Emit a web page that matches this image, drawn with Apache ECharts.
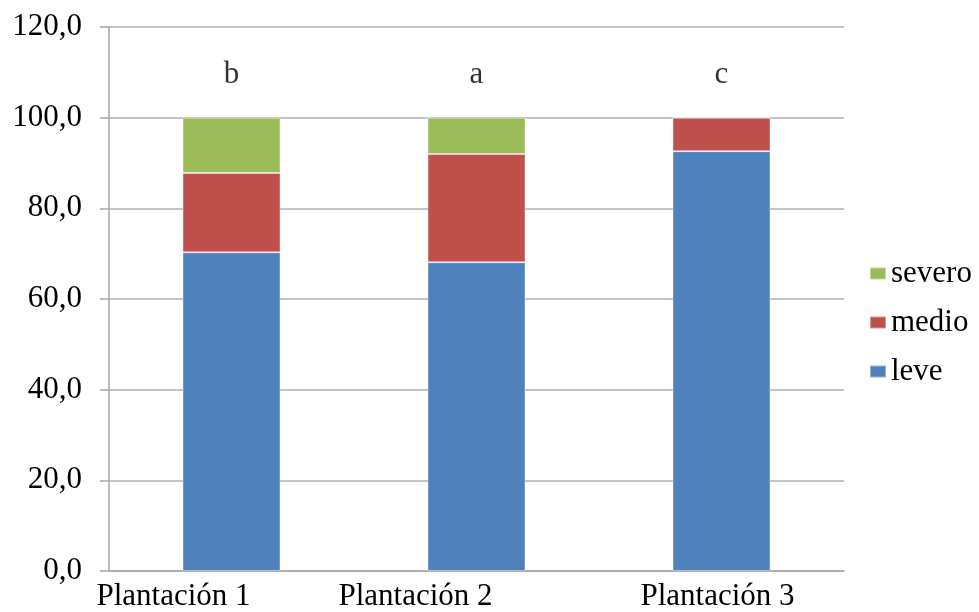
<!DOCTYPE html>
<html>
<head>
<meta charset="utf-8">
<script src="https://cdn.jsdelivr.net/npm/echarts@6/dist/echarts.min.js"></script>
<style>html,body{margin:0;padding:0;background:#fff;}#c{width:979px;height:612px;}</style>
</head>
<body>
<div id="c"></div>
<script>
const categories = ['Plantación 1', 'Plantación 2', 'Plantación 3'];
const leve = [70.3, 68.1, 92.6];
const medio = [17.5, 23.9, 7.4];
const severo = [12.2, 8.0, 0];
const letters = ['b', 'a', 'c'];
const letterLevel = [109.5, 109.5, 109.5];
const yTicks = [0, 20, 40, 60, 80, 100, 120];

const FONT = '"Liberation Serif", "Times New Roman", serif';
const FS = 31;
const labelShift = [116, 122, 8];

const chart = echarts.init(document.getElementById('c'), null, {renderer: 'canvas'});
chart.setOption({
  animation: false,
  backgroundColor: '#ffffff',
  textStyle: {fontFamily: FONT},
  grid: {left: 109, right: 135, top: 27, bottom: 39, containLabel: false},
  legend: {
    orient: 'vertical',
    left: 864,
    top: 253,
    itemWidth: 16,
    itemHeight: 12,
    itemGap: 18,
    data: ['severo', 'medio', 'leve'],
    textStyle: {fontFamily: FONT, fontSize: FS, color: '#000'},
    icon: 'rect'
  },
  xAxis: {
    type: 'category',
    data: categories,
    axisLine: {lineStyle: {color: '#A6A6A6', width: 1.5}},
    axisTick: {show: false},
    axisLabel: {
      interval: 0,
      margin: 10,
      color: '#000',
      fontFamily: FONT,
      fontSize: FS,
      formatter: function (v, i) { return '{p' + i + '|' + v + '}'; },
      rich: {
        p0: {fontFamily: FONT, fontSize: FS, color: '#000', padding: [0, labelShift[0], 0, 0]},
        p1: {fontFamily: FONT, fontSize: FS, color: '#000', padding: [0, labelShift[1], 0, 0]},
        p2: {fontFamily: FONT, fontSize: FS, color: '#000', padding: [0, labelShift[2], 0, 0]}
      }
    }
  },
  yAxis: {
    type: 'value',
    min: yTicks[0],
    max: yTicks[yTicks.length - 1],
    interval: 20,
    axisLine: {show: true, lineStyle: {color: '#A6A6A6', width: 1.5}},
    axisTick: {show: true, length: 9, lineStyle: {color: '#A6A6A6', width: 1.5}},
    splitLine: {lineStyle: {color: '#B0B0B0', width: 1.5}},
    axisLabel: {
      margin: 27,
      color: '#000',
      fontFamily: FONT,
      fontSize: FS,
      formatter: function (v) { return v.toFixed(1).replace('.', ','); }
    }
  },
  series: [
    {name: 'leve', type: 'bar', stack: 'tot', data: leve, barWidth: '40%',
     itemStyle: {color: '#4F81BD', borderColor: 'rgba(255,255,255,0.4)', borderWidth: 1}},
    {name: 'medio', type: 'bar', stack: 'tot', data: medio, barWidth: '40%',
     itemStyle: {color: '#C0504D', borderColor: 'rgba(255,255,255,0.4)', borderWidth: 1}},
    {name: 'severo', type: 'bar', stack: 'tot', data: severo, barWidth: '40%',
     itemStyle: {color: '#9BBB59', borderColor: 'rgba(255,255,255,0.4)', borderWidth: 1}},
    {name: 'letras', type: 'scatter', data: letterLevel, symbolSize: 0, silent: true,
     label: {show: true, position: 'inside', color: '#000', fontFamily: FONT, fontSize: FS,
       formatter: function (p) { return letters[p.dataIndex]; }}}
  ]
});
</script>
</body>
</html>
